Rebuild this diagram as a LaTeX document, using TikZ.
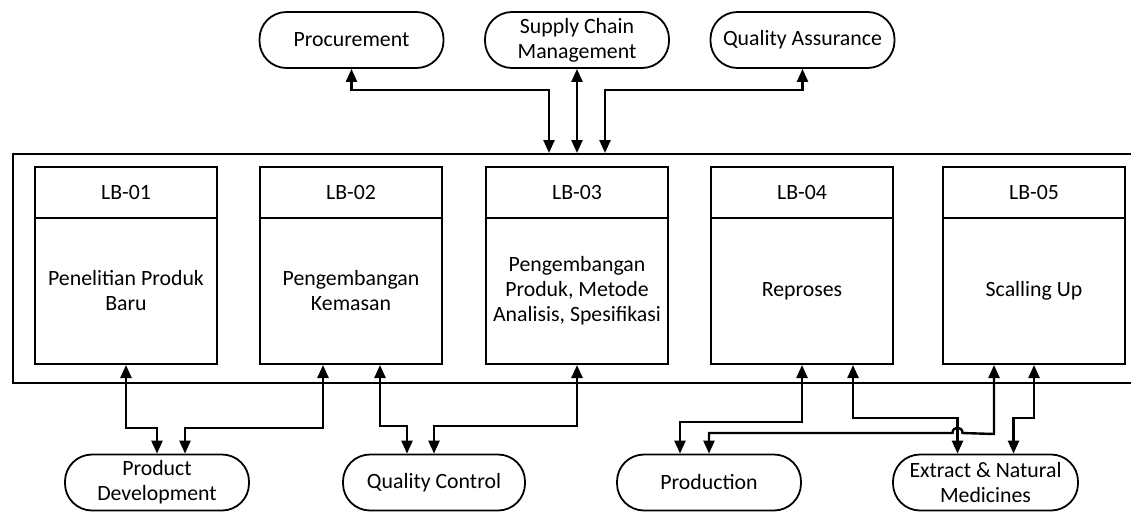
\documentclass[tikz,border=0pt]{standalone}
\usepackage{fontspec}
\setmainfont{Carlito}
\usetikzlibrary{arrows.meta}
\begin{document}
\begin{tikzpicture}[x=1pt,y=-1pt,
  every node/.style={font=\fontsize{21.8}{25}\selectfont, align=center, inner sep=0pt},
  labbox/.style={draw, line width=2pt, minimum width=182pt},
  headbox/.style={labbox, minimum height=51pt},
  bodybox/.style={labbox, minimum height=146pt},
  unit/.style={draw, line width=1.8pt, rounded corners=27pt, minimum width=184pt, minimum height=56pt},
  link/.style={line width=2.4pt, {Triangle[length=13pt,width=11pt]}-{Triangle[length=13pt,width=11pt]}},
]
\useasboundingbox (0,0) rectangle (1131,512);

% departments above the laboratory block
\node[unit] (proc) at (351.5,40) {Procurement};
\node[unit] (scm)  at (577,40)   {Supply Chain\\Management};
\node[unit] (qa)   at (802.5,40) {Quality Assurance};

% laboratory block frame
\node[draw, line width=2pt, minimum width=1123pt, minimum height=229pt, anchor=north west] (frame) at (12,153) {};
\coordinate (ta) at (549,153);
\coordinate (tb) at (577,153);
\coordinate (tc) at (605,153);

% laboratories
\node[headbox] (h1) at (126,192.5)  {LB-01};
\node[bodybox] (b1) at (126,291)    {Penelitian Produk\\Baru};
\node[headbox] (h2) at (351,192.5)  {LB-02};
\node[bodybox] (b2) at (351,291)    {Pengembangan\\Kemasan};
\node[headbox] (h3) at (577,192.5)  {LB-03};
\node[bodybox] (b3) at (577,291)    {Pengembangan\\Produk, Metode\\Analisis, Spesifikasi};
\node[headbox] (h4) at (802,192.5)  {LB-04};
\node[bodybox] (b4) at (802,291)    {Reproses};
\node[headbox] (h5) at (1034,192.5) {LB-05};
\node[bodybox] (b5) at (1034,291)   {Scalling Up};

% departments below
\node[unit] (pd)   at (157,482.5)   {Product\\Development};
\node[unit, minimum width=182pt] (qc) at (434,482.5) {Quality Control};
\node[unit] (prod) at (709,482.5)   {Production};
\node[unit, minimum width=185pt] (ext) at (985.5,482.5) {Extract \& Natural\\Medicines};

% top connectors
\draw[link] (proc.south) -- ++(0,21) -| (ta);
\draw[link] (scm.south) -- (tb);
\draw[link] (qa.south) -- ++(0,21) -| (tc);

% bottom connectors
\draw[link] (b1.south) -- ++(0,63) -| (pd.north);
\draw[link] ([xshift=-28pt]b2.south) -- ++(0,63) -| ([xshift=28pt]pd.north);
\draw[link] ([xshift=29pt]b2.south) -- ++(0,61) -| ([xshift=-27pt]qc.north);
\draw[link] (b3.south) -- ++(0,61) -| (qc.north);
\draw[link] (b4.south) -- ++(0,57) -| ([xshift=-29pt]prod.north);
\draw[link] ([xshift=51pt]b4.south) -- ++(0,53) -| ([xshift=-28pt]ext.north);
\draw[link] (b5.south) -- ++(0,53) -| ([xshift=28pt]ext.north);
\coordinate (hop) at (957.5,433);
\draw[link] ([xshift=-40pt]b5.south) -- ++(0,69) -- ([xshift=5pt]hop)
  .. controls ([xshift=5pt,yshift=7pt]hop) and ([xshift=-5pt,yshift=7pt]hop) .. ([xshift=-5pt]hop)
  -| (prod.north);
\end{tikzpicture}
\end{document}
